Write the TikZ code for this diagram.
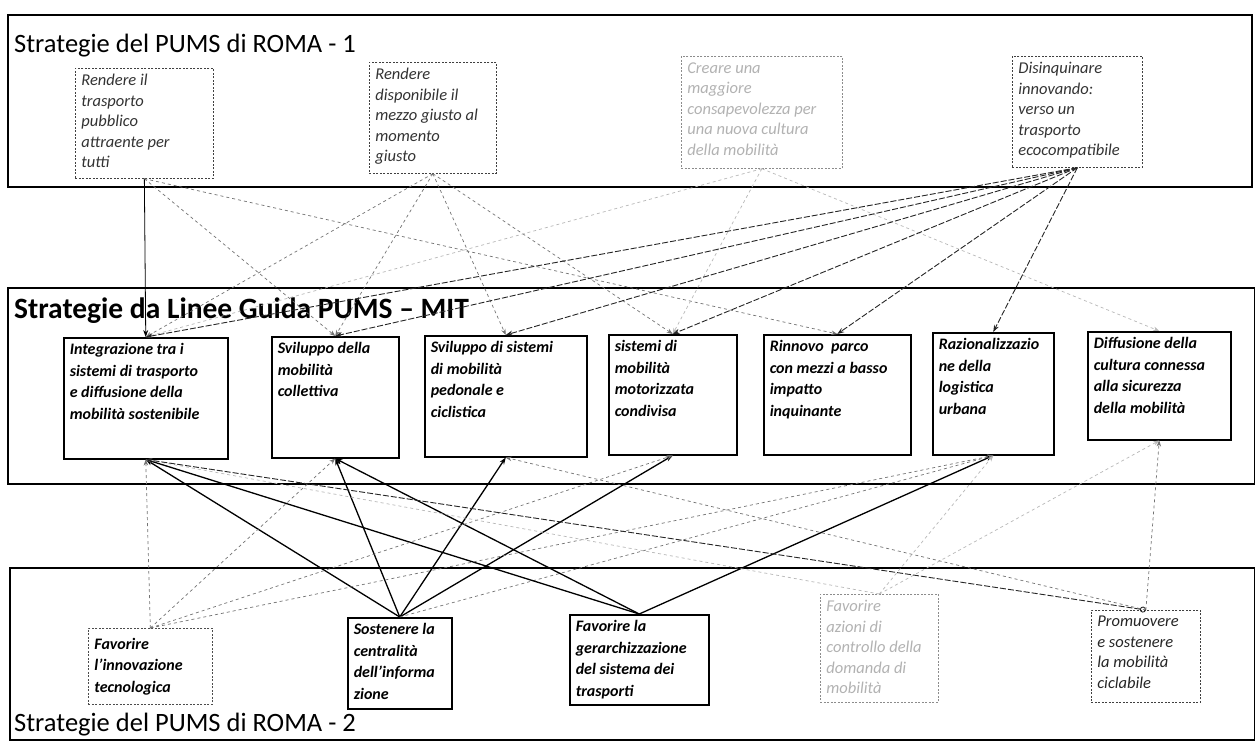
\documentclass[tikz,border=0pt]{standalone}
\usepackage{fontspec}
\setmainfont{Carlito}
\usetikzlibrary{arrows.meta}
\newcommand{\tbfont}{\fontsize{16.5}{20.5}\selectfont\itshape}
\newcommand{\mbfont}{\fontsize{16}{21.5}\selectfont\bfseries\itshape}
\newcommand{\bx}[3]{\parbox[c][#2pt][t]{#1pt}{\raggedright #3}}
\newcommand{\bxc}[3]{\parbox[c][#2pt][c]{#1pt}{\raggedright #3}}
\begin{document}
\begin{tikzpicture}[x=1pt,y=-1pt,
  band/.style={draw=black, line width=1.4pt},
  title/.style={anchor=west, inner sep=0pt, font=\fontsize{26.5}{30}\selectfont},
  topbox/.style={draw=black!75, dash pattern=on 2pt off 1.5pt, line width=0.7pt, inner sep=6pt, anchor=north west, text=black!80, font=\tbfont},
  fadebox/.style={topbox, draw=black!45, text=black!30},
  midbox/.style={draw=black, line width=1.5pt, inner sep=6pt, anchor=north west, font=\mbfont},
  dashbox/.style={draw=black!70, dash pattern=on 2pt off 1.5pt, line width=0.7pt, inner sep=6pt, anchor=north west, font=\mbfont},
  solidln/.style={draw=black, line width=1.3pt, -{Stealth[length=7pt,width=5pt]}},
  thinln/.style={draw=black, line width=0.8pt, -{Stealth[length=7pt,width=5pt]}},
  darkdash/.style={draw=black!85, line width=0.9pt, dash pattern=on 6pt off 2pt, -{Stealth[length=7pt,width=5pt]}},
  lightdash/.style={draw=black!55, line width=0.7pt, dash pattern=on 3pt off 3pt, -{Stealth[length=6pt,width=4.5pt]}},
  faintdash/.style={draw=black!28, line width=0.7pt, dash pattern=on 3pt off 3pt, -{Stealth[length=6pt,width=4.5pt]}}
]
\useasboundingbox (0,0) rectangle (1255,742);
\fill[white] (0,0) rectangle (1255,742);

% bands
\draw[band] (8,15) rectangle (1252,187);
\draw[band] (8,288) rectangle (1255,484);
\draw[band] (10,568) rectangle (1255,740);

\node[title] (t1) at (14,46) {Strategie del PUMS di ROMA - 1};
\node[title, font=\fontsize{29.5}{32}\selectfont\bfseries] (t2) at (14,311) {Strategie da Linee Guida PUMS – MIT};
\node[title] (t3) at (14,725) {Strategie del PUMS di ROMA - 2};

% top boxes
\node[topbox] (b1) at (75,68) {\bx{126}{98}{Rendere il\\trasporto\\pubblico\\attraente per\\tutti}};
\node[topbox] (b2) at (369,62) {\bx{115}{99}{Rendere\\disponibile il\\mezzo giusto al\\momento\\giusto}};
\node[fadebox] (b3) at (681,56) {\bx{149}{100}{Creare una\\maggiore\\consapevolezza per\\una nuova cultura\\della mobilità}};
\node[topbox] (b4) at (1012,56) {\bx{118}{99}{Disinquinare\\innovando:\\verso un\\trasporto\\ecocompatibile}};

% middle boxes
\node[midbox] (m1) at (63,337) {\bx{152}{109}{Integrazione tra i\\sistemi di trasporto\\e diffusione della\\mobilità sostenibile}};
\node[midbox] (m2) at (271,336) {\bx{115}{109}{Sviluppo della\\mobilità\\collettiva}};
\node[midbox] (m3) at (424,335) {\bx{150}{109}{Sviluppo di sistemi\\di mobilità\\pedonale e\\ciclistica}};
\node[midbox] (m4) at (608,334) {\bx{116}{108}{sistemi di\\mobilità\\motorizzata\\condivisa}};
\node[midbox] (m5) at (763,334) {\bx{135}{108}{Rinnovo\ \ parco\\con mezzi a basso\\impatto\\inquinante}};
\node[midbox] (m6) at (932,332) {\bx{109}{110}{Razionalizzazio\\ne della\\logistica\\urbana}};
\node[midbox] (m7) at (1087,331) {\bx{131}{96}{Diffusione della\\cultura connessa\\alla sicurezza\\della mobilità}};

% bottom boxes
\node[dashbox] (l1) at (88,628) {\bxc{112}{64}{Favorire\\l’innovazione\\tecnologica}};
\node[midbox] (l2) at (347,617) {\bx{92}{79}{Sostenere la\\centralità\\dell’informa\\zione}};
\node[midbox] (l3) at (569,614) {\bx{127}{78}{Favorire la\\gerarchizzazione\\del sistema dei\\trasporti}};
\node[fadebox] (l4) at (820,594) {\bx{106}{96}{Favorire\\azioni di\\controllo della\\domanda di\\mobilità}};
\node[topbox, text=black!85] (l5) at (1091,610) {\bx{97}{80}{Promuovere\\e sostenere\\la mobilità\\ciclabile}};

% top -> middle
\draw[thinln] (b1.south) -- (m1.north);
\draw[lightdash] (b1.south) -- (m2.north);
\draw[lightdash] (b1.south) -- (m5.north);
\draw[lightdash] (b2.south) -- (m1.north);
\draw[lightdash] (b2.south) -- (m2.north);
\draw[lightdash] (b2.south) -- (m3.north);
\draw[lightdash] (b2.south) -- (m4.north);
\draw[faintdash] (b3.south) -- (m1.north);
\draw[faintdash] (b3.south) -- (m4.north);
\draw[faintdash] (b3.south) -- (m7.north);
\foreach \m in {m1,m2,m3,m4,m5,m6} \draw[darkdash] (b4.south) -- (\m.north);

% bottom -> middle
\draw[solidln] (l2.north) -- (m1.south);
\draw[solidln] (l2.north) -- (m2.south);
\draw[solidln] (l2.north) -- (m3.south);
\draw[solidln] (l2.north) -- (m4.south);
\draw[lightdash] (l2.north) -- (m6.south);
\draw[solidln] (l3.north) -- (m1.south);
\draw[solidln] (l3.north) -- (m2.south);
\draw[solidln] (l3.north) -- (m6.south);
\draw[lightdash] (l1.north) -- (m1.south);
\draw[lightdash] (l1.north) -- (m2.south);
\draw[lightdash] (l1.north) -- (m4.south);
\draw[lightdash] (l1.north) -- (m6.south);
\draw[faintdash] (l4.north) -- (m1.south);
\draw[faintdash] (l4.north) -- (m6.south);
\draw[faintdash] (l4.north) -- (m7.south);
\draw[darkdash, {Circle[open,length=6pt]}-{Stealth[length=7pt,width=5pt]}] (l5.north) -- (m1.south);
\draw[lightdash] (l5.north) -- (m3.south);
\draw[lightdash] (l5.north) -- (m7.south);
\end{tikzpicture}
\end{document}
